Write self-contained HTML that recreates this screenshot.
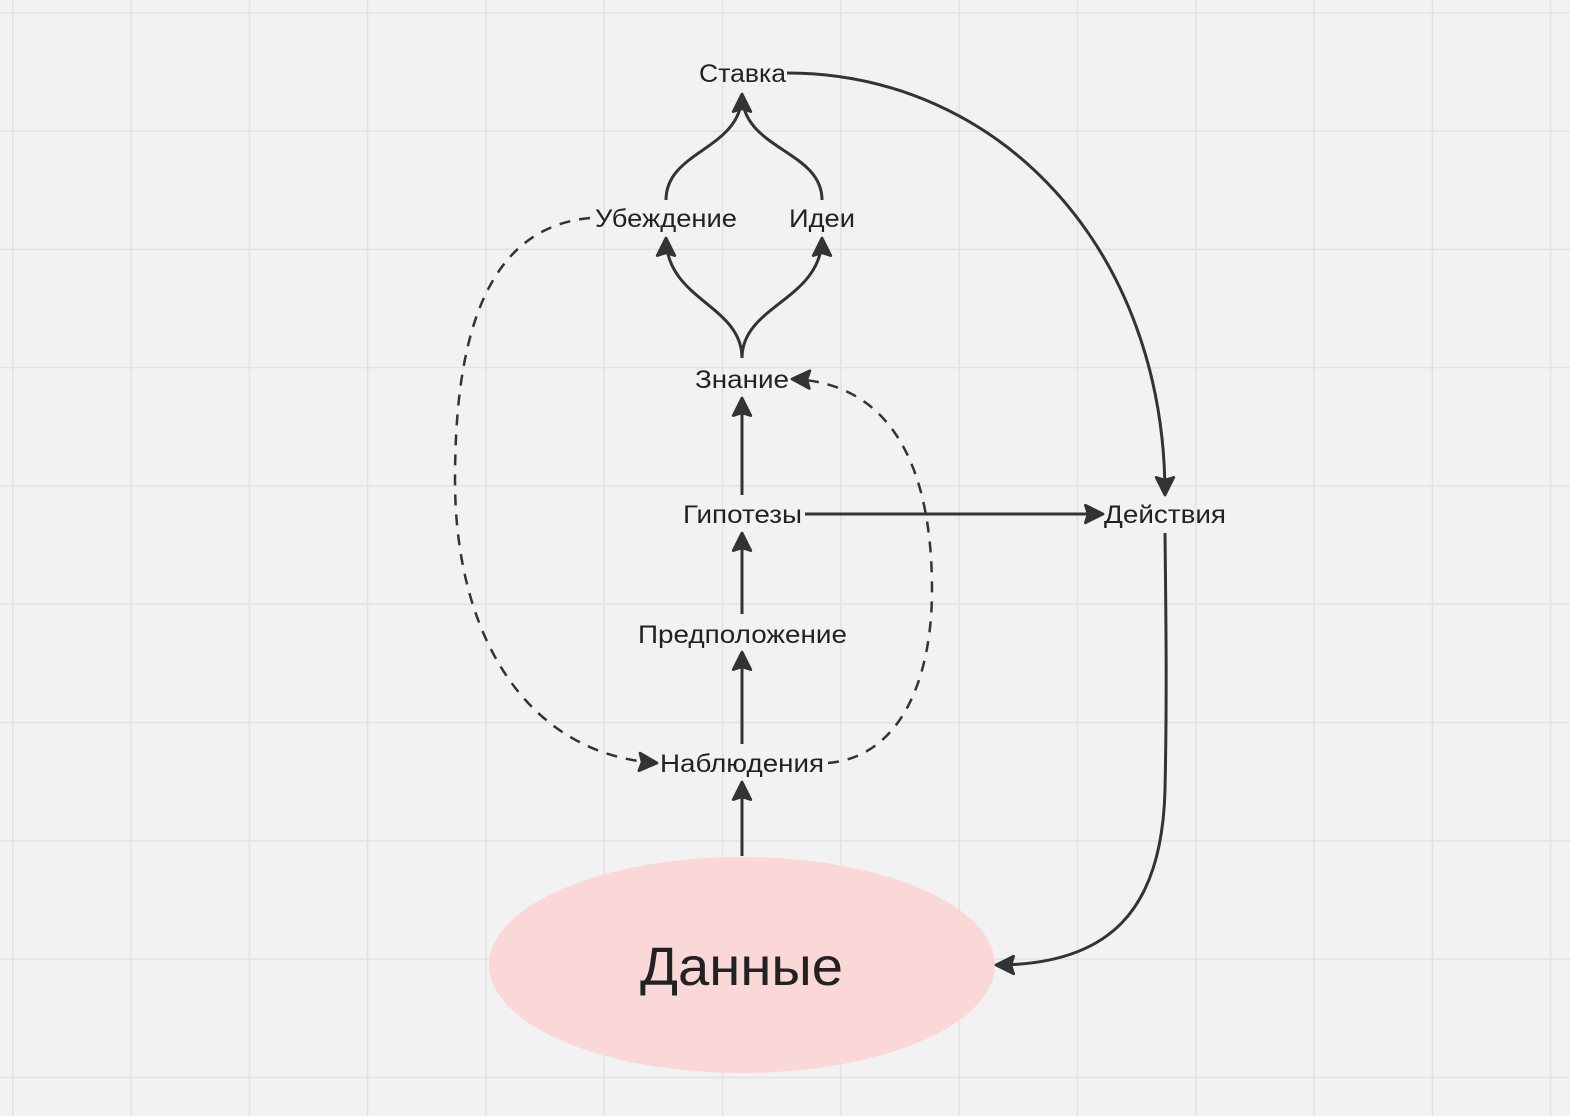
<!DOCTYPE html>
<html><head><meta charset="utf-8"><style>
html,body{margin:0;padding:0;background:#f2f2f2;}
svg{display:block;}
text{font-family:"Liberation Sans","DejaVu Sans",sans-serif;fill:#222;}
</style></head><body>
<svg width="1570" height="1116" viewBox="0 0 1570 1116" xmlns="http://www.w3.org/2000/svg">
<defs>
<pattern id="g" x="12" y="12" width="118.3" height="118.3" patternUnits="userSpaceOnUse">
<path d="M0,0 H118.3 M0,0 V118.3" stroke="#e2e2e2" stroke-width="3" fill="none"/>
</pattern>
<marker id="a" markerUnits="userSpaceOnUse" markerWidth="22" markerHeight="22" viewBox="0 0 20 20" refX="18" refY="10" orient="auto">
<path d="M2,2 L18,10 L2,18 L4.5,10 Z" fill="#333" stroke="#333" stroke-width="2.5" stroke-linejoin="round"/>
</marker>
</defs>
<rect width="1570" height="1116" fill="#f2f2f2"/>
<rect width="1570" height="1116" fill="url(#g)"/>
<ellipse cx="742" cy="965" rx="253" ry="108" fill="#f9d8d7"/>
<g fill="none" stroke="#333" stroke-width="3">
<path d="M787,73 C1000,73 1165,250 1165,495" marker-end="url(#a)"/>
<path d="M666,200 C666,150 742,150 742,94" marker-end="url(#a)"/>
<path d="M822,200 C822,150 742,150 742,94"/>
<path d="M742,358 C742,305 666,300 666,238" marker-end="url(#a)"/>
<path d="M742,358 C742,305 822,300 822,238" marker-end="url(#a)"/>
<path d="M742,495 L742,398" marker-end="url(#a)"/>
<path d="M805,514 L1103,514" marker-end="url(#a)"/>
<path d="M742,614 L742,533" marker-end="url(#a)"/>
<path d="M742,744 L742,652" marker-end="url(#a)"/>
<path d="M742,856 L742,782" marker-end="url(#a)"/>
<path d="M1165,533 C1166,620 1167,700 1165,790 C1162,910 1110,965 996,965" marker-end="url(#a)"/>
</g>
<g fill="none" stroke="#333" stroke-width="2.5" stroke-dasharray="11,9">
<path d="M590,218 C480,228 455,350 455,480 C455,640 530,755 657,763" marker-end="url(#a)"/>
<path d="M828,763 C900,757 932,680 932,590 C932,450 880,382 792,379" marker-end="url(#a)"/>
</g>
<g font-size="25">
<text x="699" y="82" textLength="87" lengthAdjust="spacingAndGlyphs">Ставка</text>
<text x="595" y="227" textLength="142" lengthAdjust="spacingAndGlyphs">Убеждение</text>
<text x="789" y="227" textLength="66" lengthAdjust="spacingAndGlyphs">Идеи</text>
<text x="695" y="388" textLength="94" lengthAdjust="spacingAndGlyphs">Знание</text>
<text x="683" y="523" textLength="119" lengthAdjust="spacingAndGlyphs">Гипотезы</text>
<text x="1104" y="523" textLength="122" lengthAdjust="spacingAndGlyphs">Действия</text>
<text x="638" y="643" textLength="209" lengthAdjust="spacingAndGlyphs">Предположение</text>
<text x="660" y="772" textLength="164" lengthAdjust="spacingAndGlyphs">Наблюдения</text>
<text x="640" y="985" font-size="54" textLength="203" lengthAdjust="spacingAndGlyphs">Данные</text>
</g>
</svg>
</body></html>
